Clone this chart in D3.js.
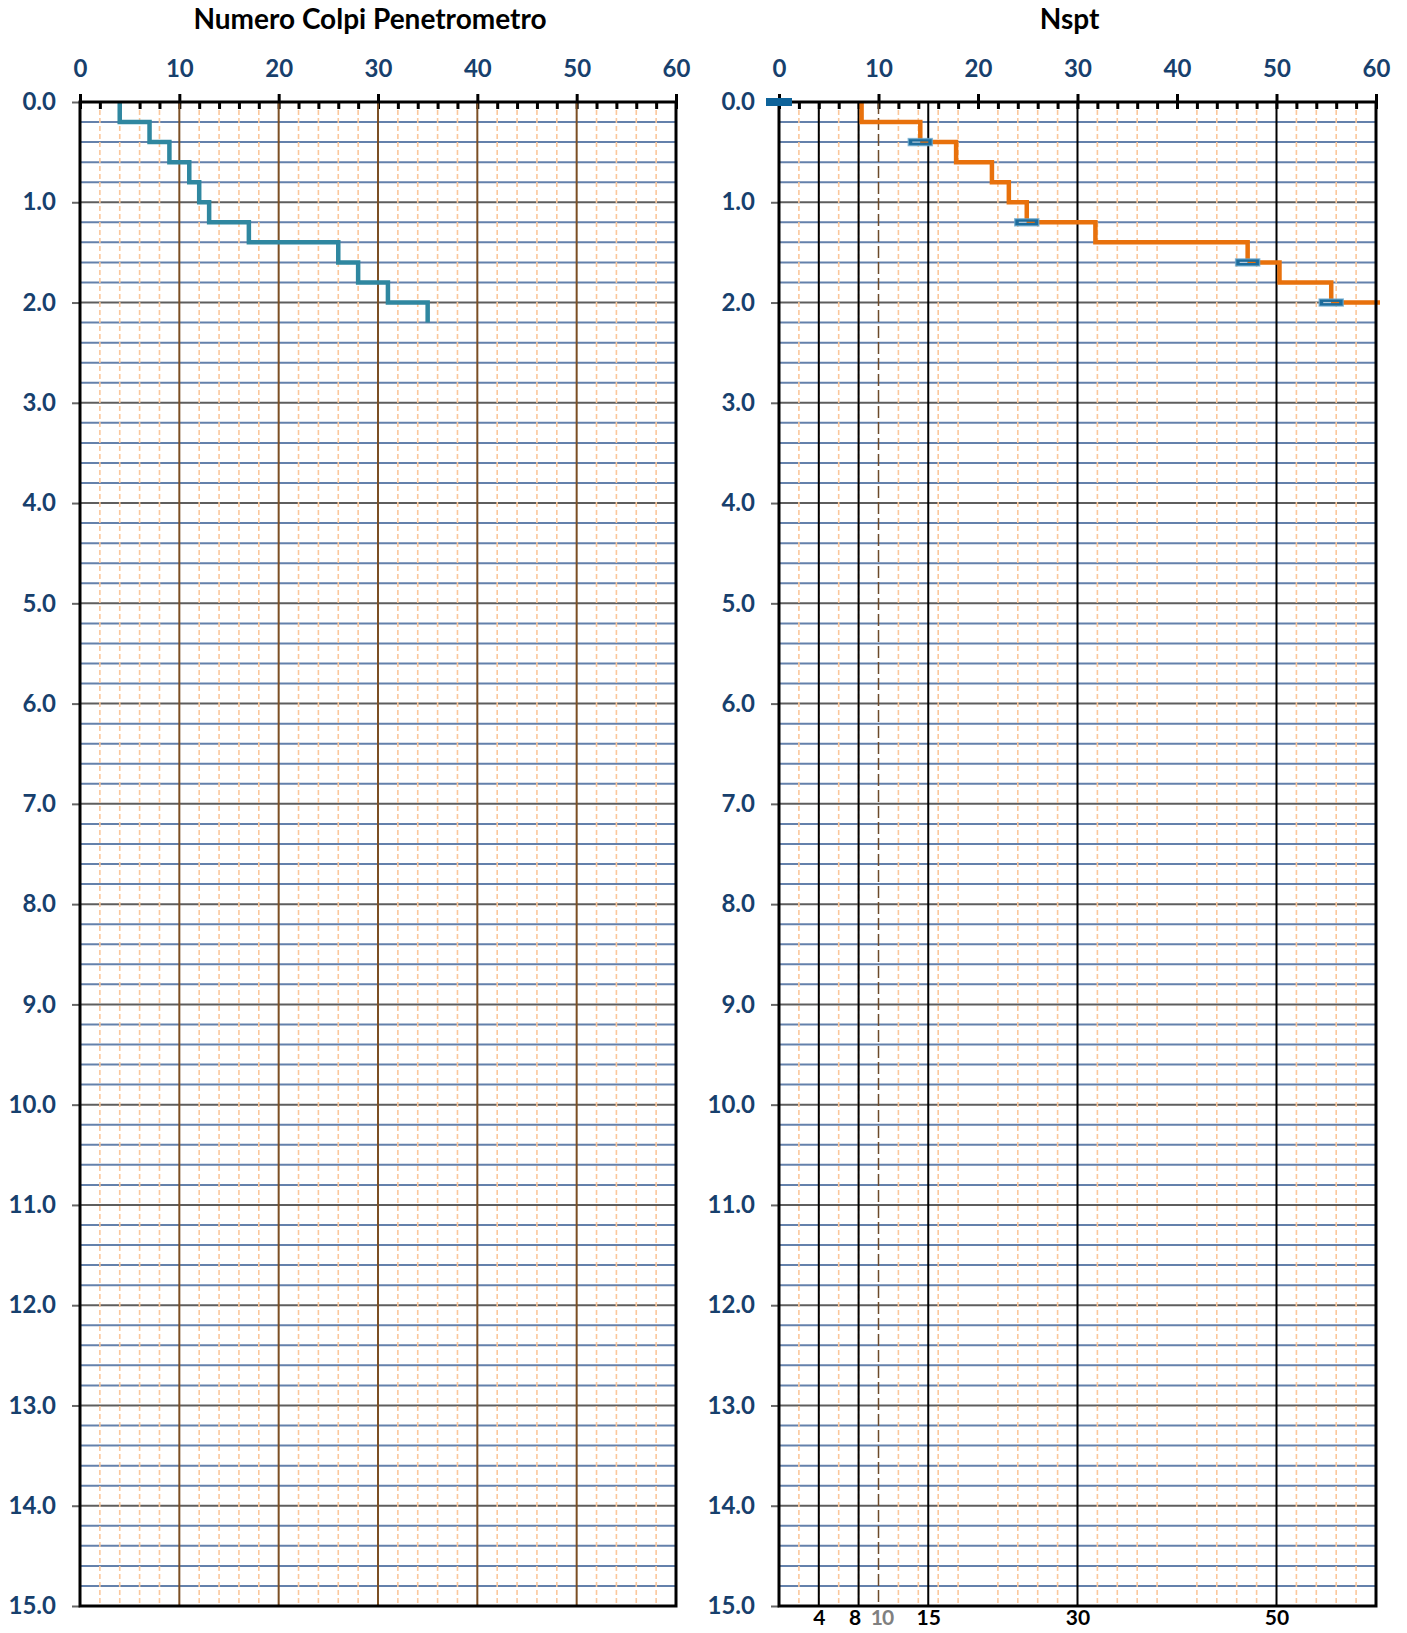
<!DOCTYPE html>
<html>
<head>
<meta charset="utf-8">
<script src="https://cdn.jsdelivr.net/npm/d3@7"></script>
<style>
  body { margin: 0; background: #fff; }
  text { font-family: Lato, "Open Sans", sans-serif; font-weight: bold; }
</style>
</head>
<body>
<div id="chart"></div>
<script>
// depth intervals (m) of each reading
const depthTop    = [0.0, 0.2, 0.4, 0.6, 0.8, 1.0, 1.2, 1.4, 1.6, 1.8, 2.0];
const depthBottom = [0.2, 0.4, 0.6, 0.8, 1.0, 1.2, 1.4, 1.6, 1.8, 2.0, 2.2];
// blow counts (penetrometer) and converted Nspt
const colpi = [4, 7, 9, 11, 12, 13, 17, 26, 28, 31, 35];
const nspt  = [8.3, 14.2, 17.8, 21.4, 23.1, 24.9, 31.8, 47.1, 50.3, 55.5, 62];
// point markers on the Nspt profile
const markerDepth = [0.0, 0.4, 1.2, 1.6, 2.0];
const markerNspt  = [0, 14.2, 24.9, 47.1, 55.5];

const xTicks = [0, 10, 20, 30, 40, 50, 60];
const xMinor = [2, 4, 6, 8, 12, 14, 16, 18, 22, 24, 26, 28, 32, 34, 36, 38, 42, 44, 46, 48, 52, 54, 56, 58];
const yTicks = [0, 1, 2, 3, 4, 5, 6, 7, 8, 9, 10, 11, 12, 13, 14, 15];
const yMinor = [];
yTicks.slice(0, -1).forEach(d => [0.2, 0.4, 0.6, 0.8].forEach(f => yMinor.push(+(d + f).toFixed(1))));
// reference lines / labels on the Nspt panel
const nsptRefLines = [4, 8, 15, 30, 50];
const nsptRefDashed = [10];
const nsptBottomLabels = [4, 8, 10, 15, 30, 50];

const width = 1407, height = 1633;
const plotTop = 102, plotBottom = 1606;

const svg = d3.select('#chart').append('svg')
  .attr('width', width)
  .attr('height', height);

const y = d3.scaleLinear().domain([0, 15]).range([plotTop, plotBottom]);

function drawPanel(x0, x1, title, id) {
  const x = d3.scaleLinear().domain([0, 60]).range([x0, x1]);
  const g = svg.append('g');

  // horizontal grid
  g.selectAll('.hmin').data(yMinor).enter().append('line')
    .attr('x1', x0).attr('x2', x1)
    .attr('y1', d => y(d)).attr('y2', d => y(d))
    .attr('stroke', '#6481ab').attr('stroke-width', 2);
  g.selectAll('.hmaj').data(yTicks.slice(1, -1)).enter().append('line')
    .attr('x1', x0).attr('x2', x1)
    .attr('y1', d => y(d)).attr('y2', d => y(d))
    .attr('stroke', '#5e5e5e').attr('stroke-width', 2);

  // vertical minor grid (dashed)
  g.selectAll('.vmin').data(xMinor).enter().append('line')
    .attr('x1', d => x(d)).attr('x2', d => x(d))
    .attr('y1', plotTop).attr('y2', plotBottom)
    .attr('stroke', '#fbc79b').attr('stroke-width', 1.6)
    .attr('stroke-dasharray', '5,3');

  // top axis: labels + major ticks above
  g.append('g')
    .attr('transform', `translate(0,${plotTop})`)
    .call(d3.axisTop(x).tickValues(xTicks).tickSizeInner(8).tickSizeOuter(0).tickPadding(17))
    .call(a => a.select('.domain').remove())
    .call(a => a.selectAll('line').attr('stroke', '#000').attr('stroke-width', 3))
    .call(a => a.selectAll('text').attr('fill', '#17406d').attr('font-size', 24));

  // small ticks below the top axis
  g.append('g')
    .attr('transform', `translate(0,${plotTop})`)
    .call(d3.axisBottom(x).tickValues(xTicks.concat(xMinor)).tickSizeInner(7).tickSizeOuter(0).tickFormat(''))
    .call(a => a.select('.domain').remove())
    .call(a => a.selectAll('line').attr('stroke', '#000').attr('stroke-width', 3));

  // depth axis
  g.append('g')
    .attr('transform', `translate(${x0},0)`)
    .call(d3.axisLeft(y).tickValues(yTicks).tickSizeInner(8).tickSizeOuter(0).tickPadding(16).tickFormat(d3.format('.1f')))
    .call(a => a.select('.domain').remove())
    .call(a => a.selectAll('line').attr('stroke', '#666').attr('stroke-width', 2))
    .call(a => a.selectAll('text').attr('fill', '#17406d').attr('font-size', 24));

  svg.append('defs').append('clipPath').attr('id', id)
    .append('rect').attr('x', x0).attr('y', plotTop - 2).attr('width', x1 - x0 + 4).attr('height', plotBottom - plotTop + 4);

  // title
  svg.append('text')
    .attr('x', (x0 + x1) / 2 - 8).attr('y', 29)
    .attr('text-anchor', 'middle')
    .attr('font-size', 28)
    .attr('fill', '#000')
    .text(title);

  return { x, g };
}

// left panel
const left = drawPanel(80, 676, 'Numero Colpi Penetrometro', 'clipL');
left.g.selectAll('.vmaj').data(xTicks.slice(1, -1)).enter().append('line')
  .attr('x1', d => left.x(d)).attr('x2', d => left.x(d))
  .attr('y1', plotTop).attr('y2', plotBottom)
  .attr('stroke', '#7b4f24').attr('stroke-width', 2);

const colpiPts = [];
colpi.forEach((v, i) => { colpiPts.push([v, depthTop[i]]); colpiPts.push([v, depthBottom[i]]); });
const lineL = d3.line().x(d => left.x(d[0])).y(d => y(d[1]));
left.g.append('path')
  .datum(colpiPts)
  .attr('d', lineL)
  .attr('fill', 'none')
  .attr('stroke', '#2f87a0')
  .attr('stroke-width', 4.5)
  .attr('clip-path', 'url(#clipL)');

// right panel
const right = drawPanel(779, 1376, 'Nspt', 'clipR');
right.g.selectAll('.vref').data(nsptRefLines).enter().append('line')
  .attr('x1', d => right.x(d)).attr('x2', d => right.x(d))
  .attr('y1', plotTop).attr('y2', plotBottom)
  .attr('stroke', '#000').attr('stroke-width', 2);
right.g.selectAll('.vdash').data(nsptRefDashed).enter().append('line')
  .attr('x1', d => right.x(d)).attr('x2', d => right.x(d))
  .attr('y1', plotTop).attr('y2', plotBottom)
  .attr('stroke', '#6b4a2a').attr('stroke-width', 1.5)
  .attr('stroke-dasharray', '12,4');

right.g.append('g')
  .attr('transform', `translate(0,${plotBottom})`)
  .call(d3.axisBottom(right.x).tickValues(nsptBottomLabels).tickSize(0).tickPadding(4).tickFormat(d3.format('d')))
  .call(a => a.select('.domain').remove())
  .call(a => a.selectAll('text')
    .attr('font-size', 21)
    .attr('fill', d => d === 10 ? '#808080' : '#000')
    .attr('letter-spacing', d => d === 10 ? -1 : 0)
    .attr('dx', d => d === 8 ? -4 : d === 10 ? 3 : 0));

const nsptPts = [];
nspt.forEach((v, i) => { nsptPts.push([v, depthTop[i]]); nsptPts.push([v, depthBottom[i]]); });
const lineR = d3.line().x(d => right.x(d[0])).y(d => y(d[1]));
right.g.append('path')
  .datum(nsptPts)
  .attr('d', lineR)
  .attr('fill', 'none')
  .attr('stroke', '#e8710c')
  .attr('stroke-width', 4.5)
  .attr('clip-path', 'url(#clipR)');

// borders
[left, right].forEach(p => {
  const [a, b] = p.x.range();
  svg.append('rect')
    .attr('x', a).attr('y', plotTop).attr('width', b - a).attr('height', plotBottom - plotTop)
    .attr('fill', 'none').attr('stroke', '#000').attr('stroke-width', 3);
});

// markers
const marks = svg.append('g');
markerNspt.forEach((v, i) => {
  const cx = right.x(v), cy = y(markerDepth[i]);
  if (i === 0) {
    marks.append('rect').attr('x', cx - 13).attr('y', cy - 4).attr('width', 26).attr('height', 8)
      .attr('fill', '#0e639a');
    return;
  }
  marks.append('rect').attr('x', cx - 12).attr('y', cy - 3.5).attr('width', 24).attr('height', 7)
    .attr('fill', '#1c6c9c').attr('stroke', '#6aa8cf').attr('stroke-opacity', 0.7).attr('stroke-width', 1.5);
  marks.append('line').attr('x1', cx - 8).attr('x2', cx).attr('y1', cy).attr('y2', cy)
    .attr('stroke', '#b9cad8').attr('stroke-width', 1.2);
  marks.append('line').attr('x1', cx).attr('x2', cx + 8).attr('y1', cy).attr('y2', cy)
    .attr('stroke', '#e8710c').attr('stroke-width', 1.2);
});
</script>
</body>
</html>
